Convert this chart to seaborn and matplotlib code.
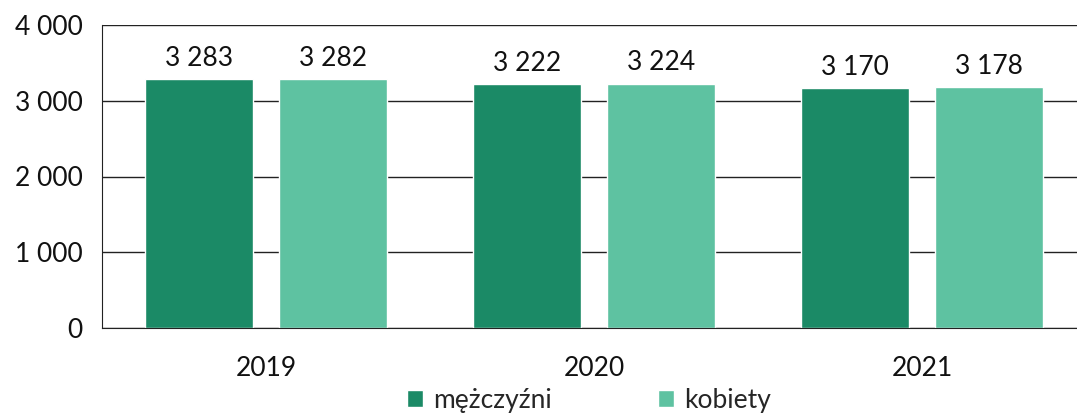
import pandas as pd
import matplotlib
matplotlib.use("Agg")
import matplotlib.pyplot as plt
import matplotlib.ticker as mticker
import seaborn as sns

# Data
years = ["2019", "2020", "2021"]
men = [3283, 3222, 3170]
women = [3282, 3224, 3178]
series_names = ["mężczyźni", "kobiety"]
colors = ["#1b8a66", "#5ec2a1"]

df = pd.DataFrame({
    "rok": years * 2,
    "płeć": [series_names[0]] * 3 + [series_names[1]] * 3,
    "wartość": men + women,
})

def pl_num(v, pos=None):
    return f"{int(round(v)):,}".replace(",", " ")

sns.set_style("white")
plt.rcParams["font.family"] = ["Lato", "DejaVu Sans"]

fig = plt.figure(figsize=(10.77, 4.16), dpi=100)
ax = fig.add_axes([102 / 1077, (416 - 328) / 416, (1086 - 102) / 1077, 303 / 416])

sns.barplot(data=df, x="rok", y="wartość", hue="płeć", palette=colors,
            width=0.82, gap=0.2, saturation=1, ax=ax, legend=True)

ax.set_ylim(0, 4000)
ax.set_xlim(-0.5, 2.5)
ax.set_yticks([0, 1000, 2000, 3000, 4000])
ax.yaxis.set_major_formatter(mticker.FuncFormatter(pl_num))
ax.grid(axis="y", color="#222222", linewidth=1.0)
ax.set_axisbelow(True)

for s in ["top", "right"]:
    ax.spines[s].set_visible(False)
ax.spines["left"].set_color("#222222")
ax.spines["bottom"].set_color("#222222")

ax.set_xlabel("")
ax.set_ylabel("")
ax.tick_params(axis="y", labelsize=19, pad=14, length=0, colors="#111111")
ax.tick_params(axis="x", labelsize=19, pad=20, length=0, colors="#111111")

for cont in ax.containers:
    ax.bar_label(cont, labels=[pl_num(v) for v in cont.datavalues],
                 padding=6, fontsize=19, color="#111111")

handles, labels = ax.get_legend_handles_labels()
ax.get_legend().remove()
fig.legend(handles, labels, loc="lower center", bbox_to_anchor=(0.547, -0.05),
           ncol=2, frameon=False, fontsize=19, handlelength=0.6, handleheight=0.6,
           handletextpad=0.4, columnspacing=4.0)

fig.savefig("out.png", dpi=100, facecolor="white")
